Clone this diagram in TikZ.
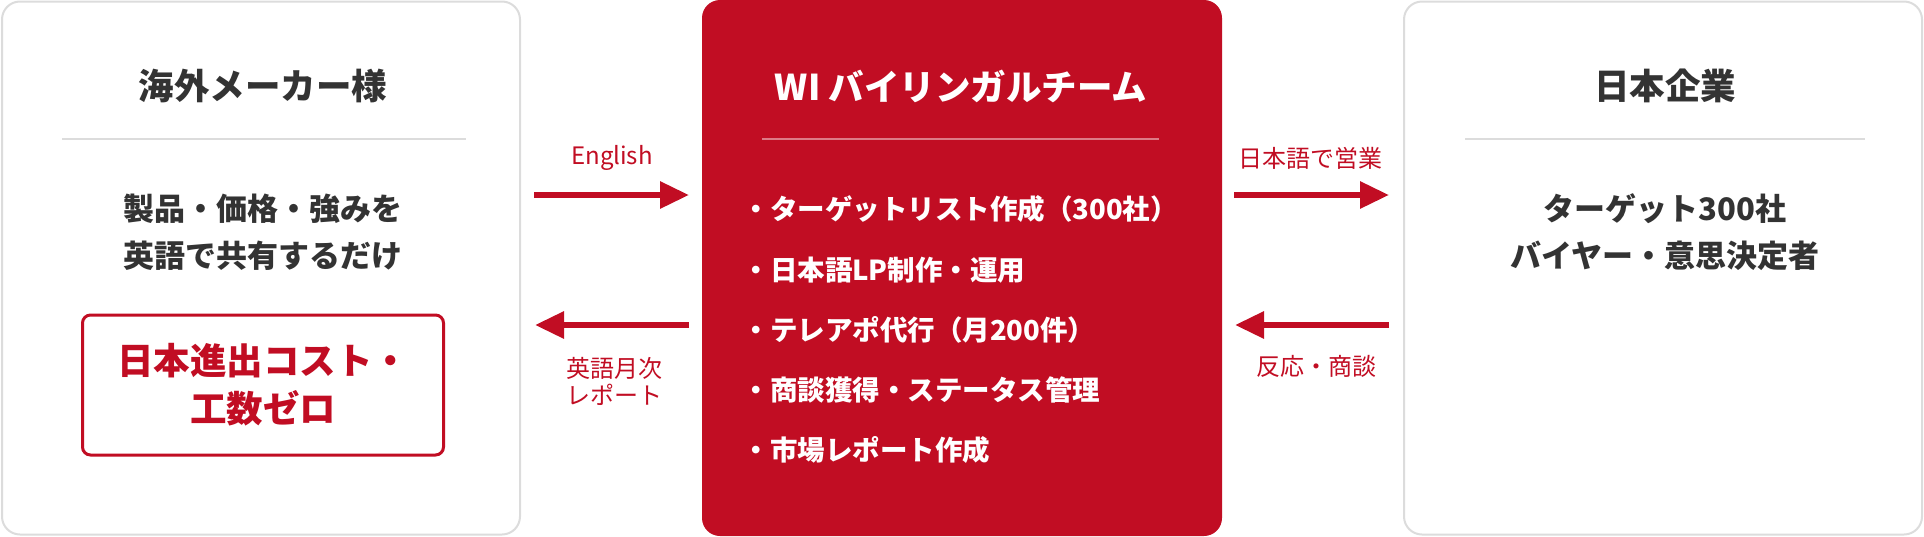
\documentclass[tikz,border=0pt]{standalone}
\usepackage{fontspec}
\setmainfont{Noto Sans CJK JP}
\usetikzlibrary{arrows.meta}
\definecolor{wired}{HTML}{C10D23}
\definecolor{inkgray}{HTML}{333333}
\definecolor{edgegray}{HTML}{DCDCDC}
\newcommand\fs[2]{\fontsize{#1}{#2}\selectfont}
\tikzset{
  card/.style={draw=edgegray, line width=2pt, fill=white, rounded corners=18pt,
    minimum width=518pt, minimum height=533pt, inner sep=0pt},
  teamcard/.style={fill=wired, rounded corners=18pt,
    minimum width=520pt, minimum height=536pt, inner sep=0pt},
  head/.style={font=\fs{35.5}{40}\bfseries, text=inkgray},
  body/.style={font=\fs{31}{47}\bfseries, text=inkgray, align=center},
  item/.style={font=\fs{27.5}{30}\bfseries, text=white, anchor=west},
  flowlbl/.style={font=\fs{24}{27}, text=wired, align=center},
  flow/.style={draw=wired, line width=6pt, -{Triangle[length=29pt,width=26pt]}},
  rule/.style={draw=edgegray, line width=2pt}
}

\begin{document}
\begin{tikzpicture}[x=1pt,y=-1pt]
    \useasboundingbox (0,0) rectangle (1924,536);

    % the three columns
    \node[card] (maker) at (261,268) {};
    \node[teamcard] (team) at (962,268) {};
    \node[card] (corp) at (1663,268) {};

    % overseas maker
    \node[head] (makerT) at (263,86) {海外メーカー様};
    \draw[rule] (62,139) -- (466,139);
    \node[body] (makerB) at (263,232) {製品・価格・強みを\\英語で共有するだけ};
    \node[draw=wired, line width=3pt, rounded corners=8pt, minimum width=361pt,
      minimum height=140pt, font=\fs{36.5}{48}\bfseries, text=wired, align=center]
      (zero) at (263,385) {日本進出コスト・\\工数ゼロ};

    % WI team
    \node[head, text=white] (teamT) at (961,86) {WI バイリンガルチーム};
    \draw[draw=wired!55!white, line width=2pt] (762,139) -- (1159,139);
    \node[item] (i1) at (739,209) {・ターゲットリスト作成（300社）};
    \node[item] (i2) at (739,270) {・日本語LP制作・運用};
    \node[item] (i3) at (739,330) {・テレアポ代行（月200件）};
    \node[item] (i4) at (739,390) {・商談獲得・ステータス管理};
    \node[item] (i5) at (739,450) {・市場レポート作成};

    % Japanese companies
    \node[head] (corpT) at (1665,86) {日本企業};
    \draw[rule] (1465,139) -- (1865,139);
    \node[body] (corpB) at (1665,232) {ターゲット300社\\バイヤー・意思決定者};

    % arrows
    \coordinate (enA) at (534,195);
    \coordinate (enB) at (689,195);
    \coordinate (rpA) at (689,325);
    \coordinate (rpB) at (535,325);
    \coordinate (jpA) at (1234,195);
    \coordinate (jpB) at (1389,195);
    \coordinate (reA) at (1389,325);
    \coordinate (reB) at (1235,325);

    \draw[flow] (enA) -- (enB);
    \draw[flow] (rpA) -- (rpB);
    \draw[flow] (jpA) -- (jpB);
    \draw[flow] (reA) -- (reB);

    \node[flowlbl] (enL) at (612,158) {English};
    \node[flowlbl] (rpL) at (614,381) {英語月次\\レポート};
    \node[flowlbl] (jpL) at (1310,158) {日本語で営業};
    \node[flowlbl] (reL) at (1316,366) {反応・商談};
\end{tikzpicture}
\end{document}
